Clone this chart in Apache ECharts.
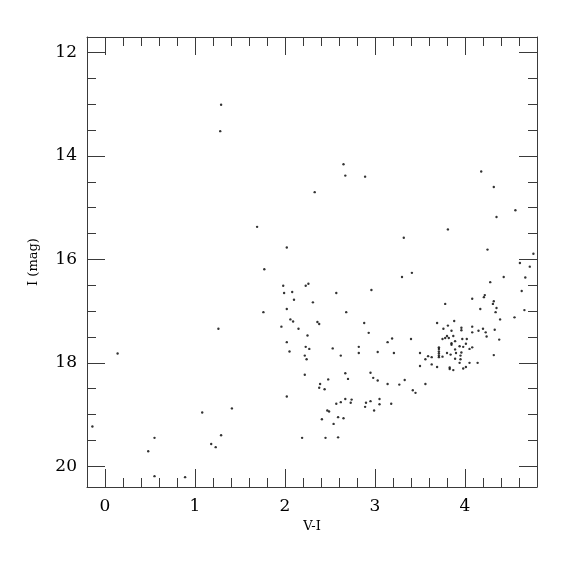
<!DOCTYPE html>
<html>
<head>
<meta charset="utf-8">
<script src="https://cdn.jsdelivr.net/npm/echarts@6/dist/echarts.min.js"></script>
<style>
html,body{margin:0;padding:0;background:#fff;}
#chart{width:575px;height:575px;}
</style>
</head>
<body>
<div id="chart"></div>
<script>
// V-I colour of each star
const viColour = [
-0.14,0.14,0.48,0.55,0.55,0.89,1.08,1.18,1.23,1.29,1.41,1.26,1.29,1.28,1.69,1.76,1.77,
2.02,2.19,2.45,2.22,2.38,2.39,2.44,2.48,2.47,2.41,1.96,2.02,2.02,2.05,2.06,2.09,2.15,
2.25,2.23,2.27,2.22,2.24,2.36,2.38,2.31,2.10,2.65,2.67,2.89,2.33,2.02,1.98,1.99,2.08,
2.23,2.26,2.57,2.68,2.96,2.88,3.32,3.30,3.41,3.81,4.18,4.32,4.35,4.56,4.76,4.25,4.61,
4.72,4.67,4.43,4.28,4.63,4.66,4.55,3.78,4.08,4.17,4.21,4.22,4.31,4.32,4.35,4.34,4.39,
3.69,3.88,3.81,3.96,4.08,4.20,4.33,3.76,2.93,2.53,2.62,2.82,2.82,3.03,3.14,3.19,3.21,
3.40,2.67,2.70,2.95,2.98,3.03,3.14,3.27,3.33,3.56,3.42,3.45,2.57,2.62,2.67,2.73,2.74,
2.89,2.90,2.95,3.05,3.05,2.99,3.18,2.49,2.54,2.59,2.65,2.59,
3.85,3.96,4.15,4.08,4.24,4.23,4.38,4.32,4.14,4.05,4.08,4.05,4.02,4.01,3.98,3.97,3.94,
3.94,3.95,3.96,3.90,3.89,3.89,3.87,3.85,3.85,3.84,3.80,3.82,3.80,3.78,3.75,3.71,3.71,
3.71,3.71,3.71,3.71,3.75,3.69,3.63,3.59,3.56,3.50,3.50,3.63,3.83,3.83,3.87,3.98,4.01,
3.95,3.89
];
// I magnitude of each star
const iMag = [
19.23,17.82,19.71,19.45,20.19,20.21,18.96,19.57,19.63,19.40,18.88,17.34,13.01,13.52,15.37,17.02,16.19,
18.65,19.45,19.45,18.23,18.48,18.41,18.51,18.32,18.92,19.09,17.30,16.96,17.60,17.78,17.16,17.20,17.34,
17.47,17.69,17.73,17.86,17.93,17.21,17.25,16.83,16.78,14.16,14.38,14.40,14.70,15.77,16.51,16.65,16.63,
16.51,16.47,16.65,17.02,16.59,17.23,15.58,16.34,16.26,15.42,14.30,14.60,15.18,15.05,15.89,15.81,16.07,
16.14,16.35,16.34,16.44,16.61,16.98,17.12,16.86,16.76,16.96,16.73,16.69,16.86,16.81,16.94,17.02,17.16,
17.23,17.19,17.28,17.32,17.30,17.34,17.36,17.34,17.42,17.72,17.86,17.69,17.81,17.79,17.60,17.53,17.81,
17.54,18.20,18.31,18.19,18.29,18.34,18.41,18.42,18.33,18.41,18.53,18.58,18.79,18.76,18.70,18.77,18.71,
18.85,18.77,18.74,18.70,18.80,18.92,18.79,18.94,19.18,19.05,19.07,19.44,
17.38,17.37,17.38,17.41,17.49,17.41,17.55,17.85,18.00,18.00,17.70,17.73,17.54,17.63,17.69,17.54,17.68,
18.00,17.93,17.80,17.81,17.74,17.58,17.48,17.62,17.65,17.84,17.81,17.52,17.48,17.52,17.54,17.70,17.73,
17.78,17.82,17.86,17.89,17.88,18.08,17.89,17.87,17.93,17.81,18.06,18.03,18.12,18.09,18.14,18.11,18.08,
17.86,17.92
];
const xMajorTicks = [0, 1, 2, 3, 4];
const xMinorTicks = [0.2,0.4,0.6,0.8,1.2,1.4,1.6,1.8,2.2,2.4,2.6,2.8,3.2,3.4,3.6,3.8,4.2,4.4,4.6];
const yMajorTicks = [12, 14, 16, 18, 20];
const yMinorTicks = [12.5,13,13.5,14.5,15,15.5,16.5,17,17.5,18.5,19,19.5];

const points = viColour.map((v, i) => [v, iMag[i]]);

const lineCol = '#3a3a3a';
const font = 'DejaVu Serif';
const X_MIN = -0.2, X_MAX = 4.8, Y_MIN = 11.7, Y_MAX = 20.4;

function xAx(pos, ticks, len, withLabel, showLine) {
  return {
    type: 'value', position: pos, min: X_MIN, max: X_MAX,
    axisLine: { show: showLine, onZero: false, lineStyle: { color: lineCol, width: 1 } },
    axisTick: { show: true, inside: true, length: len, customValues: ticks, lineStyle: { color: lineCol, width: 1 } },
    axisLabel: withLabel ? { show: true, customValues: ticks, margin: 11, fontFamily: font, fontSize: 17, color: '#000' } : { show: false },
    splitLine: { show: false }
  };
}
function yAx(pos, ticks, len, withLabel, showLine) {
  return {
    type: 'value', position: pos, min: Y_MIN, max: Y_MAX, inverse: true,
    axisLine: { show: showLine, onZero: false, lineStyle: { color: lineCol, width: 1 } },
    axisTick: { show: true, inside: true, length: len, customValues: ticks, lineStyle: { color: lineCol, width: 1 } },
    axisLabel: withLabel ? { show: true, customValues: ticks, margin: 10, fontFamily: font, fontSize: 17, color: '#000' } : { show: false },
    splitLine: { show: false }
  };
}

const xMain = xAx('bottom', xMajorTicks, 18, true, true);
xMain.name = 'V-I';
xMain.nameLocation = 'middle';
xMain.nameGap = 32;
xMain.nameTextStyle = { fontFamily: font, fontSize: 13, color: '#000' };

const yMain = yAx('left', yMajorTicks, 18, true, true);
yMain.name = 'I (mag)';
yMain.nameLocation = 'middle';
yMain.nameGap = 47;
yMain.nameTextStyle = { fontFamily: font, fontSize: 13, color: '#000' };

const chart = echarts.init(document.getElementById('chart'), null, { renderer: 'canvas' });
chart.setOption({
  animation: false,
  backgroundColor: '#fff',
  grid: { left: 87, right: 38, top: 37, bottom: 88, containLabel: false },
  xAxis: [
    xMain,
    xAx('bottom', xMinorTicks, 9, false, false),
    xAx('top', xMajorTicks, 18, false, true),
    xAx('top', xMinorTicks, 9, false, false)
  ],
  yAxis: [
    yMain,
    yAx('left', yMinorTicks, 9, false, false),
    yAx('right', yMajorTicks, 18, false, true),
    yAx('right', yMinorTicks, 9, false, false)
  ],
  series: [{
    type: 'scatter',
    xAxisIndex: 0, yAxisIndex: 0,
    symbol: 'circle',
    symbolSize: 2.4,
    itemStyle: { color: '#000' },
    data: points
  }]
});
</script>
</body>
</html>
